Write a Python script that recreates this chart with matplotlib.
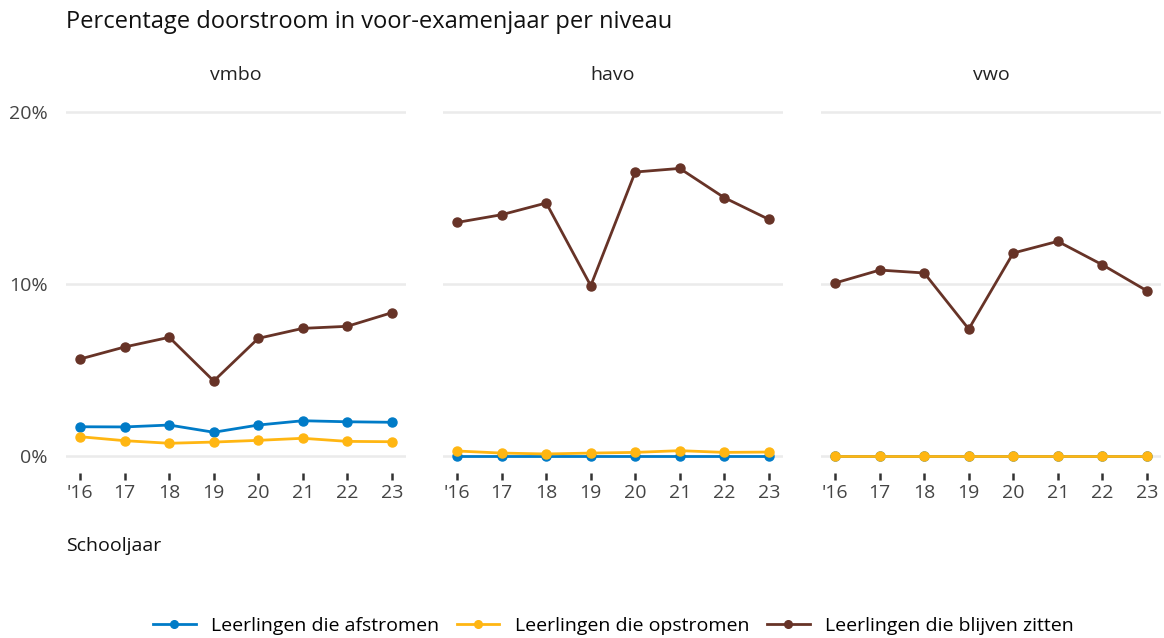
import numpy as np
import matplotlib
matplotlib.use("Agg")
import matplotlib.pyplot as plt
from matplotlib.lines import Line2D

plt.rcParams['font.family'] = ['Open Sans', 'DejaVu Sans']

years = ["'16", "17", "18", "19", "20", "21", "22", "23"]
niveaus = ["vmbo", "havo", "vwo"]

# percentages per niveau
afstromen = {
    "vmbo": [1.70, 1.69, 1.80, 1.38, 1.80, 2.05, 1.99, 1.96],
    "havo": [0.0, 0.0, 0.0, 0.0, 0.0, 0.0, 0.0, 0.0],
    "vwo":  [0.0, 0.0, 0.0, 0.0, 0.0, 0.0, 0.0, 0.0],
}
opstromen = {
    "vmbo": [1.12, 0.89, 0.74, 0.81, 0.91, 1.03, 0.85, 0.83],
    "havo": [0.29, 0.17, 0.12, 0.17, 0.21, 0.31, 0.21, 0.23],
    "vwo":  [0.0, 0.0, 0.0, 0.0, 0.0, 0.0, 0.0, 0.0],
}
blijven = {
    "vmbo": [5.64, 6.34, 6.90, 4.36, 6.84, 7.42, 7.54, 8.33],
    "havo": [13.58, 14.03, 14.71, 9.90, 16.51, 16.72, 15.02, 13.76],
    "vwo":  [10.06, 10.81, 10.64, 7.38, 11.80, 12.48, 11.12, 9.61],
}

series = [
    ("Leerlingen die afstromen", afstromen, "#007BC7"),
    ("Leerlingen die opstromen", opstromen, "#FFB612"),
    ("Leerlingen die blijven zitten", blijven, "#673327"),
]

W, H = 1164, 638
fig = plt.figure(figsize=(W / 100, H / 100), dpi=100)

lefts = [66, 443, 821]
pw = 340
top_px, bot_px = 100, 473
x = np.arange(len(years))

for i, niv in enumerate(niveaus):
    ax = fig.add_axes([lefts[i] / W, 1 - bot_px / H, pw / W, (bot_px - top_px) / H])
    for lab, d, col in series:
        ax.plot(x, d[niv], color=col, lw=2.0, marker='o', ms=6.5, zorder=3)
    ax.set_xlim(-0.32, 7.32)
    ax.set_ylim(-(bot_px - 456) / 17.2, 20 + (112 - top_px) / 17.2)
    ax.set_yticks([0, 10, 20])
    ax.yaxis.grid(True, color='#EBEBEB', lw=1.8)
    ax.set_axisbelow(True)
    for s in ax.spines.values():
        s.set_visible(False)
    ax.set_xticks(x)
    ax.set_xticklabels(years)
    ax.tick_params(axis='x', length=5, width=1.8, color='#333333', labelsize=14,
                   labelcolor='#444444', pad=3)
    if i == 0:
        ax.set_yticklabels(['0%', '10%', '20%'])
        ax.tick_params(axis='y', length=0, labelsize=14, labelcolor='#444444', pad=13)
    else:
        ax.tick_params(axis='y', length=0, labelleft=False)
    fig.text((lefts[i] + pw / 2) / W, 1 - 75 / H, niv, ha='center', va='center',
             fontsize=14, color='#222222')

fig.text(66 / W, 1 - 22 / H, "Percentage doorstroom in voor-examenjaar per niveau",
         ha='left', va='center', fontsize=17, color='#111111')
fig.text(66 / W, 1 - 546 / H, "Schooljaar", ha='left', va='center',
         fontsize=14, color='#111111')

handles = [Line2D([0], [0], color=c, lw=2.0, marker='o', ms=5.5) for _, _, c in series]
fig.legend(handles, [s[0] for s in series], loc='center', bbox_to_anchor=(0.527, 1 - 626 / H),
           ncol=3, frameon=False, fontsize=14, handlelength=2.2, columnspacing=0.9)

fig.savefig("out.png", dpi=100)
